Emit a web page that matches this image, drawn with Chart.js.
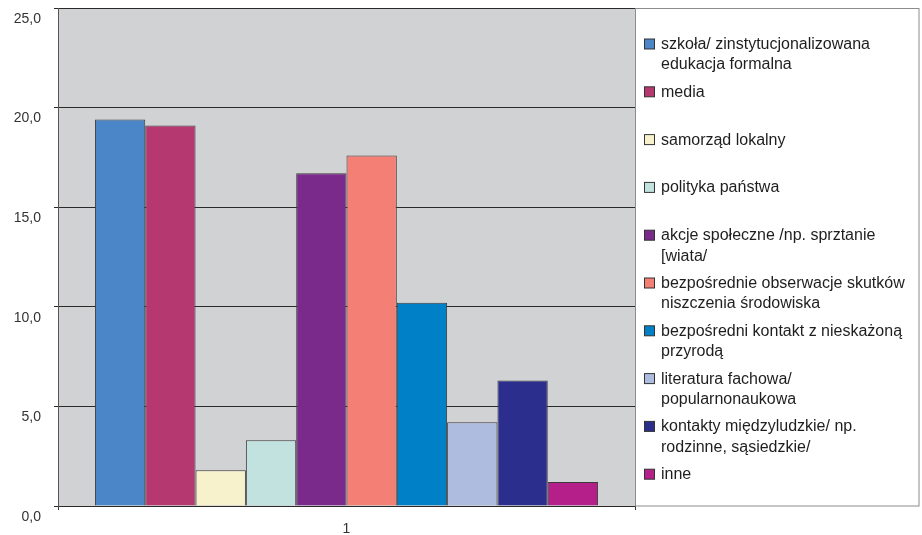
<!DOCTYPE html>
<html>
<head>
<meta charset="utf-8">
<script src="https://cdn.jsdelivr.net/npm/chart.js@4"></script>
<style>
  html, body { margin: 0; padding: 0; background: #fff; }
</style>
</head>
<body>
<canvas id="grafico" width="922" height="535"></canvas>
<script>
// Dane wykresu
const kategorie = ['1'];
const nazwySerii = [
  ['szkoła/ zinstytucjonalizowana', 'edukacja formalna'],
  ['media'],
  ['samorząd lokalny'],
  ['polityka państwa'],
  ['akcje społeczne /np. sprztanie', '[wiata/'],
  ['bezpośrednie obserwacje skutków', 'niszczenia środowiska'],
  ['bezpośredni kontakt z nieskażoną', 'przyrodą'],
  ['literatura fachowa/', 'popularnonaukowa'],
  ['kontakty międzyludzkie/ np.', 'rodzinne, sąsiedzkie/'],
  ['inne']
];
const wartosci = [19.4, 19.1, 1.8, 3.3, 16.7, 17.6, 10.2, 4.2, 6.3, 1.2];
const kolory = ['#4a86c8', '#b53870', '#f8f2cc', '#c2e2e0', '#7a2a8a',
                '#f47f74', '#0080c6', '#aebddf', '#2c2e8e', '#b41f8a'];
const osY = { min: 0, max: 25, krok: 5 };

const czcionka = 'Arial, "Liberation Sans", sans-serif';

// Szare tło obszaru wykresu
const tloObszaru = {
  id: 'tloObszaru',
  beforeDraw(chart) {
    const { ctx, chartArea: a } = chart;
    ctx.save();
    ctx.fillStyle = '#d1d2d4';
    ctx.fillRect(a.left, a.top, a.right - a.left, a.bottom - a.top);
    ctx.restore();
  }
};

// Legenda w ramce po prawej, z etykietami w dwóch wierszach
const legendaWRamce = {
  id: 'legendaWRamce',
  afterDraw(chart) {
    const { ctx, chartArea: a } = chart;
    const x0 = Math.round(a.right) + 0.5;
    const y0 = Math.round(a.top) + 0.5;
    const szer = 919 - x0;
    const wys = Math.round(a.bottom) - y0;
    ctx.save();
    ctx.fillStyle = '#ffffff';
    ctx.fillRect(x0, y0, szer, wys);
    ctx.strokeStyle = '#8c8c8c';
    ctx.lineWidth = 1;
    ctx.strokeRect(x0, y0, szer, wys);

    ctx.font = '16px ' + czcionka;
    ctx.textBaseline = 'middle';
    ctx.textAlign = 'left';
    chart.data.datasets.forEach((ds, i) => {
      const y = a.top + 36.5 + i * 47.8;
      ctx.fillStyle = ds.backgroundColor;
      ctx.fillRect(644.5, y - 5.5, 10, 10);
      ctx.strokeStyle = '#333';
      ctx.strokeRect(644.5, y - 5.5, 10, 10);
      ctx.fillStyle = '#1e1e1e';
      nazwySerii[i].forEach((linia, j) => {
        ctx.fillText(linia, 661, y + j * 20.5);
      });
    });
    ctx.restore();
  }
};

const ctx = document.getElementById('grafico').getContext('2d');
const wykres = new Chart(ctx, {
  type: 'bar',
  data: {
    labels: kategorie,
    datasets: wartosci.map((v, i) => ({
      label: nazwySerii[i].join(' '),
      data: [v],
      backgroundColor: kolory[i],
      borderColor: '#3c3c3c',
      borderWidth: 1,
      barPercentage: 1,
      categoryPercentage: 0.872
    }))
  },
  options: {
    responsive: false,
    animation: false,
    layout: { padding: { top: 8, right: 287, left: 0, bottom: 0 } },
    plugins: {
      legend: { display: false },
      tooltip: { enabled: false }
    },
    scales: {
      x: {
        afterFit(scale) { scale.height = 29; },
        grid: {
          drawOnChartArea: false,
          drawTicks: true,
          tickLength: 4,
          color: '#333'
        },
        border: { display: false },
        ticks: {
          color: '#333',
          padding: 11,
          font: { family: czcionka, size: 14 }
        }
      },
      y: {
        min: osY.min,
        max: osY.max,
        afterFit(scale) {
          scale.width = 58;
          scale.paddingTop = 0;
          scale.paddingBottom = 0;
        },
        grid: {
          color: '#2a2a2a',
          tickLength: 4,
          lineWidth: 1
        },
        border: { display: true, color: '#555' },
        ticks: {
          stepSize: osY.krok,
          color: '#333',
          padding: 13,
          labelOffset: 11,
          font: { family: czcionka, size: 14 },
          callback: (v) => v.toFixed(1).replace('.', ',')
        }
      }
    }
  },
  plugins: [tloObszaru, legendaWRamce]
});
</script>
</body>
</html>
